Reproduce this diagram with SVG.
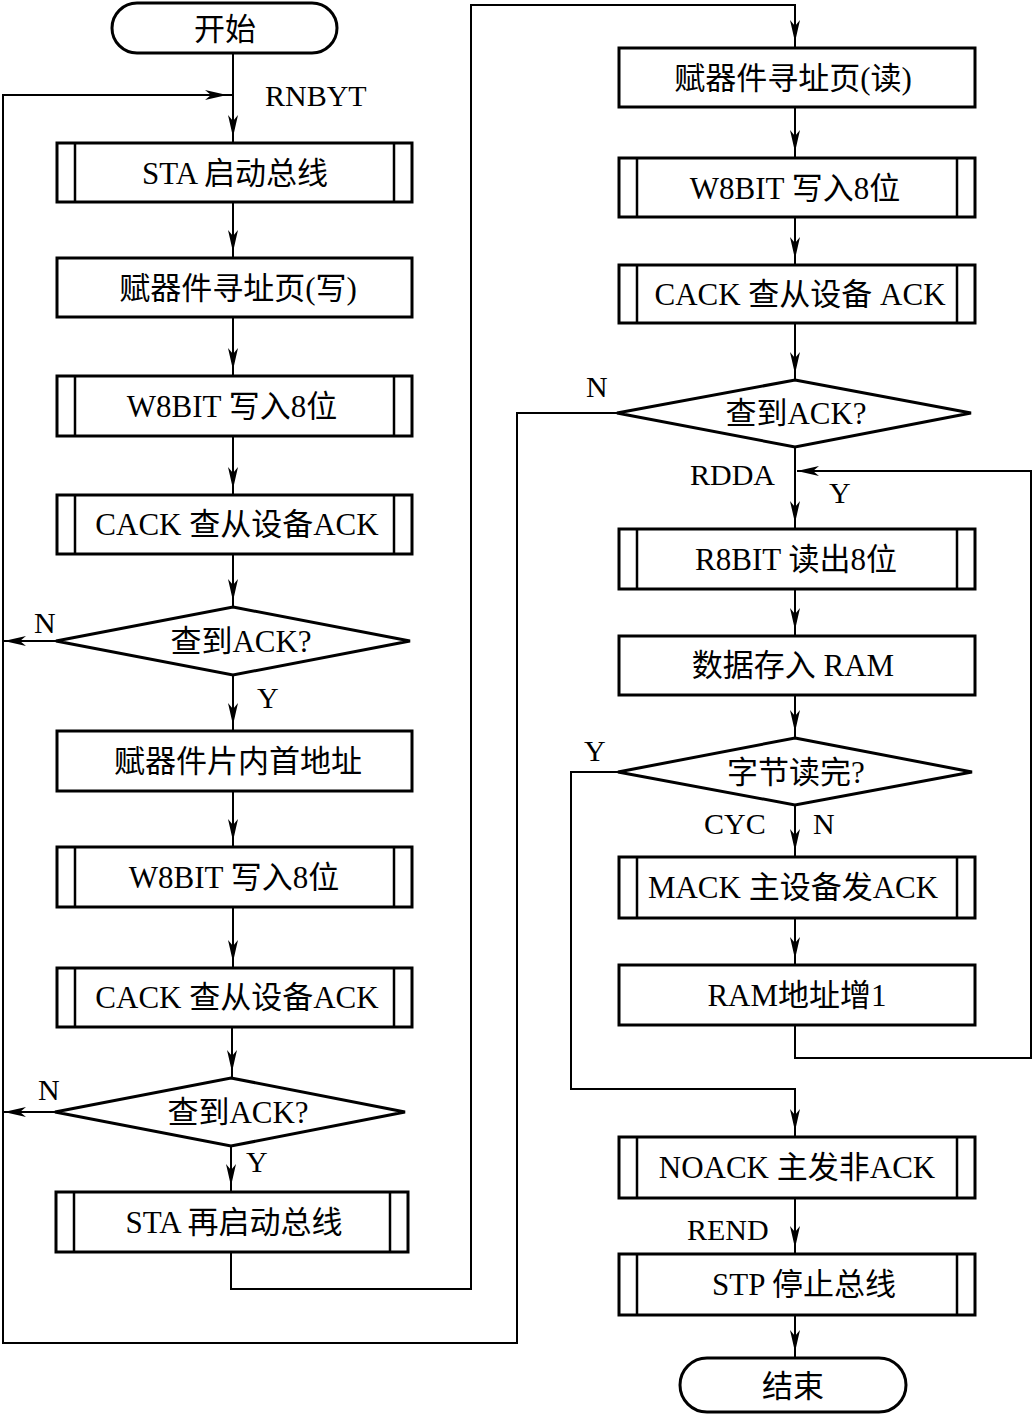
<svg xmlns="http://www.w3.org/2000/svg" width="1033" height="1415" viewBox="0 0 1033 1415">
<style>
.bx{fill:#fff;stroke:#000;stroke-width:3}
.il{stroke:#000;stroke-width:2.5}
.cn{fill:none;stroke:#000;stroke-width:2}
.t{font-family:"Liberation Serif","Noto Sans CJK SC",serif;font-size:31px;fill:#000;text-anchor:middle}
.l{font-family:"Liberation Serif","Noto Sans CJK SC",serif;font-size:30px;fill:#000}
</style>
<defs>
<marker id="arr" viewBox="0 0 22 10" markerWidth="22" markerHeight="10" refX="28" refY="5" orient="auto" markerUnits="userSpaceOnUse">
<path d="M0,0 L22,5 L0,10 L6,5 z" fill="#000"/>
</marker>
<marker id="arr0" viewBox="0 0 22 10" markerWidth="22" markerHeight="10" refX="22" refY="5" orient="auto" markerUnits="userSpaceOnUse">
<path d="M0,0 L22,5 L0,10 L6,5 z" fill="#000"/>
</marker>
</defs>
<rect width="1033" height="1415" fill="#fff"/>

<g id="connectors">
<path class="cn" d="M233,53 V143" marker-end="url(#arr)"/>
<path class="cn" d="M617,413 H517 V1343 H3 V95 H233" marker-end="url(#arr)"/>
<path class="cn" d="M233,202 V258" marker-end="url(#arr)"/>
<path class="cn" d="M233,317 V376" marker-end="url(#arr)"/>
<path class="cn" d="M233,436 V495" marker-end="url(#arr)"/>
<path class="cn" d="M233,554 V607" marker-end="url(#arr)"/>
<path class="cn" d="M56,641 H4" marker-end="url(#arr0)"/>
<path class="cn" d="M233,675 V731" marker-end="url(#arr)"/>
<path class="cn" d="M233,791 V847" marker-end="url(#arr)"/>
<path class="cn" d="M233,907 V968" marker-end="url(#arr)"/>
<path class="cn" d="M232,1027 V1078" marker-end="url(#arr)"/>
<path class="cn" d="M55,1112 H4" marker-end="url(#arr0)"/>
<path class="cn" d="M231,1146 V1192" marker-end="url(#arr)"/>
<path class="cn" d="M231,1252 V1289 H471 V5 H795 V48" marker-end="url(#arr)"/>
<path class="cn" d="M795,107 V158" marker-end="url(#arr)"/>
<path class="cn" d="M795,217 V265" marker-end="url(#arr)"/>
<path class="cn" d="M795,323 V380" marker-end="url(#arr)"/>
<path class="cn" d="M795,447 V529" marker-end="url(#arr)"/>
<path class="cn" d="M795,589 V636" marker-end="url(#arr)"/>
<path class="cn" d="M795,695 V738" marker-end="url(#arr)"/>
<path class="cn" d="M795,805 V857" marker-end="url(#arr)"/>
<path class="cn" d="M795,918 V965" marker-end="url(#arr)"/>
<path class="cn" d="M795,1025 V1058 H1031 V471 H797" marker-end="url(#arr0)"/>
<path class="cn" d="M618,772 H571 V1089 H795 V1137" marker-end="url(#arr)"/>
<path class="cn" d="M795,1198 V1254" marker-end="url(#arr)"/>
<path class="cn" d="M795,1315 V1358" marker-end="url(#arr)"/>
</g>

<g id="labels">
<text class="l" x="265" y="106">RNBYT</text>
<text class="l" x="34" y="633">N</text>
<text class="l" x="257" y="708">Y</text>
<text class="l" x="38" y="1100">N</text>
<text class="l" x="246" y="1172">Y</text>
<text class="l" x="586" y="397">N</text>
<text class="l" x="690" y="485">RDDA</text>
<text class="l" x="829" y="503">Y</text>
<text class="l" x="584" y="761">Y</text>
<text class="l" x="704" y="834">CYC</text>
<text class="l" x="813" y="834">N</text>
<text class="l" x="687" y="1240">REND</text>
</g>

<g id="start">
<rect class="bx" x="112" y="3" width="225" height="50" rx="25"/>
<text class="t" x="225" y="40">开始</text>
</g>
<g id="sta1">
<rect class="bx" x="57" y="143" width="355" height="59"/>
<line class="il" x1="75" y1="143" x2="75" y2="202"/><line class="il" x1="394" y1="143" x2="394" y2="202"/>
<text class="t" x="235" y="184">STA 启动总线</text>
</g>
<g id="addrw">
<rect class="bx" x="57" y="258" width="355" height="59"/>
<text class="t" x="238" y="299">赋器件寻址页(写)</text>
</g>
<g id="w8bit1">
<rect class="bx" x="57" y="376" width="355" height="60"/>
<line class="il" x1="75" y1="376" x2="75" y2="436"/><line class="il" x1="394" y1="376" x2="394" y2="436"/>
<text class="t" x="232" y="417">W8BIT 写入8位</text>
</g>
<g id="cack1">
<rect class="bx" x="57" y="495" width="355" height="59"/>
<line class="il" x1="75" y1="495" x2="75" y2="554"/><line class="il" x1="394" y1="495" x2="394" y2="554"/>
<text class="t" x="237" y="535">CACK 查从设备ACK</text>
</g>
<g id="dec1">
<polygon class="bx" points="233,607 410,641 233,675 56,641"/>
<text class="t" x="241" y="652">查到ACK?</text>
</g>
<g id="subaddr">
<rect class="bx" x="57" y="731" width="355" height="60"/>
<text class="t" x="238" y="772">赋器件片内首地址</text>
</g>
<g id="w8bit2">
<rect class="bx" x="57" y="847" width="355" height="60"/>
<line class="il" x1="75" y1="847" x2="75" y2="907"/><line class="il" x1="394" y1="847" x2="394" y2="907"/>
<text class="t" x="234" y="888">W8BIT 写入8位</text>
</g>
<g id="cack2">
<rect class="bx" x="57" y="968" width="355" height="59"/>
<line class="il" x1="75" y1="968" x2="75" y2="1027"/><line class="il" x1="394" y1="968" x2="394" y2="1027"/>
<text class="t" x="237" y="1008">CACK 查从设备ACK</text>
</g>
<g id="dec2">
<polygon class="bx" points="231,1078 405,1112 231,1146 55,1112"/>
<text class="t" x="238" y="1123">查到ACK?</text>
</g>
<g id="sta2">
<rect class="bx" x="56" y="1192" width="352" height="60"/>
<line class="il" x1="74" y1="1192" x2="74" y2="1252"/><line class="il" x1="390" y1="1192" x2="390" y2="1252"/>
<text class="t" x="234" y="1233">STA 再启动总线</text>
</g>

<g id="addrr">
<rect class="bx" x="619" y="48" width="356" height="59"/>
<text class="t" x="793" y="89">赋器件寻址页(读)</text>
</g>
<g id="w8bit3">
<rect class="bx" x="619" y="158" width="356" height="59"/>
<line class="il" x1="637" y1="158" x2="637" y2="217"/><line class="il" x1="957" y1="158" x2="957" y2="217"/>
<text class="t" x="795" y="199">W8BIT 写入8位</text>
</g>
<g id="cack3">
<rect class="bx" x="619" y="265" width="356" height="58"/>
<line class="il" x1="637" y1="265" x2="637" y2="323"/><line class="il" x1="957" y1="265" x2="957" y2="323"/>
<text class="t" x="800" y="305">CACK 查从设备 ACK</text>
</g>
<g id="dec3">
<polygon class="bx" points="795,380 971,413 795,447 617,413"/>
<text class="t" x="796" y="424">查到ACK?</text>
</g>
<g id="r8bit">
<rect class="bx" x="619" y="529" width="356" height="60"/>
<line class="il" x1="637" y1="529" x2="637" y2="589"/><line class="il" x1="957" y1="529" x2="957" y2="589"/>
<text class="t" x="796" y="570">R8BIT 读出8位</text>
</g>
<g id="store">
<rect class="bx" x="619" y="636" width="356" height="59"/>
<text class="t" x="793" y="676">数据存入 RAM</text>
</g>
<g id="dec4">
<polygon class="bx" points="795,738 972,772 795,805 618,772"/>
<text class="t" x="796" y="783">字节读完?</text>
</g>
<g id="mack">
<rect class="bx" x="619" y="857" width="356" height="61"/>
<line class="il" x1="637" y1="857" x2="637" y2="918"/><line class="il" x1="957" y1="857" x2="957" y2="918"/>
<text class="t" x="793" y="898">MACK 主设备发ACK</text>
</g>
<g id="raminc">
<rect class="bx" x="619" y="965" width="356" height="60"/>
<text class="t" x="797" y="1006">RAM地址增1</text>
</g>
<g id="noack">
<rect class="bx" x="619" y="1137" width="356" height="61"/>
<line class="il" x1="637" y1="1137" x2="637" y2="1198"/><line class="il" x1="957" y1="1137" x2="957" y2="1198"/>
<text class="t" x="797" y="1178">NOACK 主发非ACK</text>
</g>
<g id="stp">
<rect class="bx" x="619" y="1254" width="356" height="61"/>
<line class="il" x1="637" y1="1254" x2="637" y2="1315"/><line class="il" x1="957" y1="1254" x2="957" y2="1315"/>
<text class="t" x="804" y="1295">STP 停止总线</text>
</g>
<g id="end">
<rect class="bx" x="680" y="1358" width="226" height="54" rx="27"/>
<text class="t" x="793" y="1397">结束</text>
</g>
</svg>
